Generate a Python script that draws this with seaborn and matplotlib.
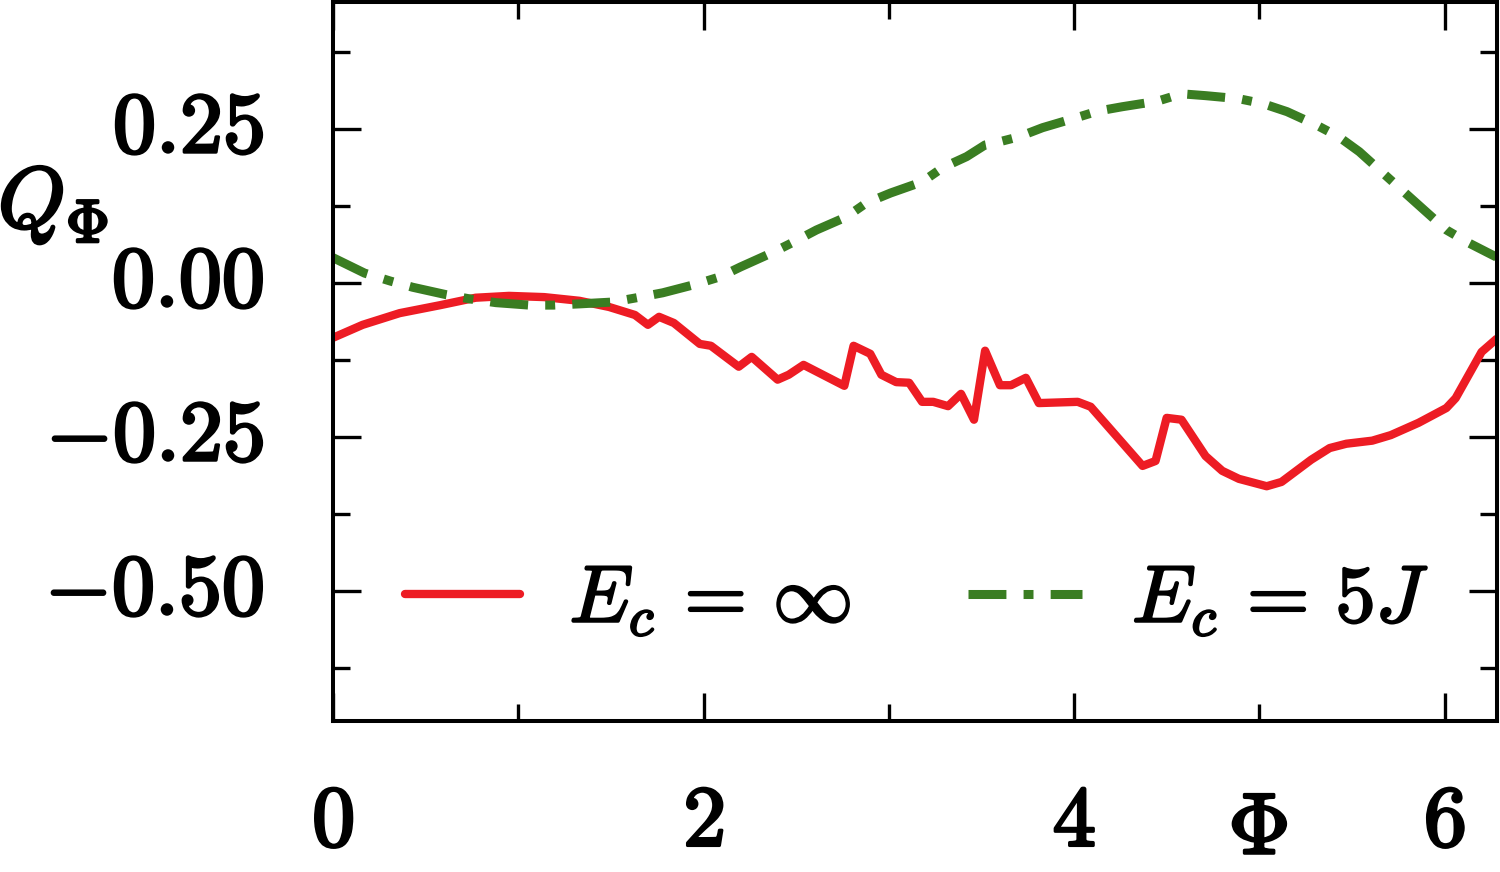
import numpy as np
import pandas as pd
import matplotlib
matplotlib.use("Agg")
import matplotlib.pyplot as plt
import matplotlib.patheffects as pe
from matplotlib.ticker import MultipleLocator, FixedLocator
import seaborn as sns

# %%
# valores: Q_Phi em funcao de Phi
phi_red = [0.00, 0.16, 0.36, 0.58, 0.77, 0.95, 1.14, 1.33, 1.49, 1.63, 1.70, 1.76,
           1.84, 1.98, 2.04, 2.19, 2.26, 2.40, 2.46, 2.54, 2.76, 2.81, 2.90, 2.96,
           3.04, 3.11, 3.18, 3.24, 3.32, 3.39, 3.46, 3.52, 3.60, 3.66, 3.74, 3.81,
           4.02, 4.09, 4.37, 4.44, 4.50, 4.58, 4.71, 4.80, 4.89, 5.04, 5.12, 5.28,
           5.38, 5.47, 5.61, 5.71, 5.86, 6.01, 6.06, 6.20, 6.28]
q_red = [-0.089, -0.068, -0.049, -0.036, -0.024, -0.021, -0.023, -0.029, -0.039, -0.052,
         -0.068, -0.055, -0.065, -0.099, -0.102, -0.136, -0.120, -0.157, -0.149, -0.133,
         -0.167, -0.102, -0.115, -0.149, -0.161, -0.162, -0.193, -0.193, -0.200, -0.180,
         -0.222, -0.110, -0.166, -0.166, -0.154, -0.195, -0.193, -0.201, -0.297, -0.289,
         -0.219, -0.222, -0.281, -0.305, -0.318, -0.330, -0.323, -0.287, -0.268, -0.261,
         -0.256, -0.247, -0.227, -0.203, -0.187, -0.112, -0.091]

phi_green = [0.00, 0.17, 0.31, 0.43, 0.61, 0.74, 0.88, 1.06, 1.19, 1.33, 1.51, 1.64,
             1.78, 1.96, 2.09, 2.20, 2.37, 2.49, 2.61, 2.77, 2.88, 3.01, 3.18, 3.29,
             3.42, 3.52, 3.57, 3.70, 3.83, 4.01, 4.13, 4.26, 4.45, 4.58, 4.71, 4.89,
             5.02, 5.15, 5.31, 5.43, 5.54, 5.68, 5.78, 5.88, 6.01, 6.13, 6.28]
q_green = [0.041, 0.016, 0.003, -0.007, -0.019, -0.026, -0.032, -0.036, -0.036, -0.034,
           -0.031, -0.024, -0.016, -0.002, 0.010, 0.026, 0.049, 0.067, 0.086, 0.107,
           0.130, 0.146, 0.164, 0.187, 0.205, 0.224, 0.227, 0.237, 0.252, 0.268,
           0.279, 0.286, 0.295, 0.307, 0.304, 0.299, 0.291, 0.278, 0.256, 0.237,
           0.213, 0.175, 0.148, 0.121, 0.086, 0.065, 0.042]

labels = [r"$E_c\,=\,\infty$", r"$E_c\,=\,5J$"]
xticks = [0, 2, 4, 6]
yticks = [-0.50, -0.25, 0.00, 0.25]

# %%
sns.set_style("ticks")
plt.rcParams["mathtext.fontset"] = "cm"
plt.rcParams["font.family"] = ["DejaVu Serif"]
for k in ["text.color", "axes.labelcolor", "xtick.color", "ytick.color"]:
    plt.rcParams[k] = "black"

fs = 62
red = "#ED1C24"
green = "#3A7D22"
negrito = [pe.withStroke(linewidth=2.2, foreground="black")]

fig = plt.figure(figsize=(15, 8.72), dpi=100)
ax = fig.add_axes([0.222, 0.1732, 0.776, 0.8245])

df_red = pd.DataFrame({"phi": phi_red, "q": q_red})
df_green = pd.DataFrame({"phi": phi_green, "q": q_green})

sns.lineplot(data=df_red, x="phi", y="q", ax=ax, sort=False, color=red,
             linewidth=6.0, label=labels[0])
sns.lineplot(data=df_green, x="phi", y="q", ax=ax, sort=False, color=green,
             linewidth=6.5, linestyle=(0, (4.2, 1.9, 1.1, 1.9)),
             dash_capstyle="butt", label=labels[1])

ax.set_xlim(0, 2 * np.pi)
ax.set_ylim(-0.711, 0.456)

ax.xaxis.set_major_locator(FixedLocator(xticks))
ax.xaxis.set_minor_locator(MultipleLocator(1))
ax.yaxis.set_major_locator(FixedLocator(yticks))
ax.yaxis.set_minor_locator(MultipleLocator(0.125))
ax.set_xticklabels([rf"$\mathbf{{{v}}}$" for v in xticks])
ax.set_yticklabels([rf"$\mathbf{{{v:.2f}}}$" for v in yticks])

ax.tick_params(which="both", direction="in", top=True, right=True,
               width=2.4, labelsize=fs, color="black")
ax.tick_params(which="major", length=20)
ax.tick_params(axis="y", which="major", pad=50)
ax.tick_params(axis="x", which="major", pad=43)
ax.tick_params(which="minor", length=12.5)
for s in ax.spines.values():
    s.set_linewidth(2.9)
    s.set_color("black")
for t in ax.get_xticklabels() + ax.get_yticklabels():
    t.set_path_effects(negrito)
for t in ax.get_yticklabels():
    t.set_verticalalignment("center")

ax.set_xlabel(r"$\mathbf{\Phi}$", fontsize=fs, va="center", path_effects=negrito)
ax.xaxis.set_label_coords(0.7947, -0.152)
ax.set_ylabel(r"$Q_{\mathbf{\Phi}}$", fontsize=fs, rotation=0, ha="center",
              va="center", path_effects=negrito)
ax.yaxis.set_label_coords(-0.2405, 0.7177)

leg = ax.legend(loc="center left", bbox_to_anchor=(0.062, 0.168), ncol=2, frameon=False,
                fontsize=58, borderpad=0, borderaxespad=0, handlelength=1.42,
                handletextpad=0.62, columnspacing=1.45)
for t in leg.get_texts():
    t.set_path_effects([pe.withStroke(linewidth=1.6, foreground="black")])

fig.savefig("out.png", dpi=100)
